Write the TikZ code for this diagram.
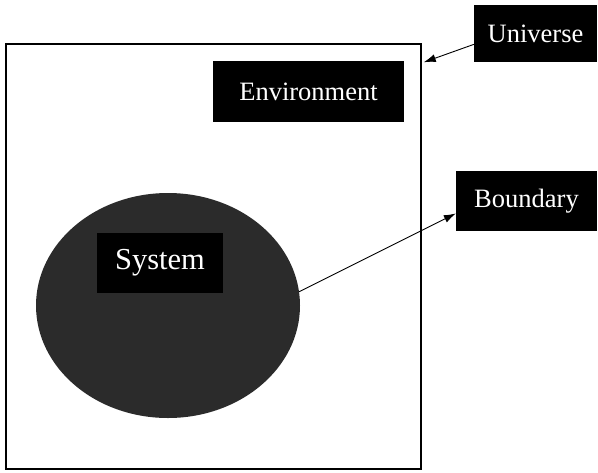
\documentclass[tikz,border=0pt]{standalone}
\usepackage{fontspec}
\setmainfont{Liberation Serif}
\usetikzlibrary{shapes.geometric, arrows.meta, positioning, calc}

\begin{document}
\begin{tikzpicture}[x=1pt, y=-1pt,
        lbox/.style={rectangle, fill=black, text=white, inner sep=0pt, align=center, font=\fontsize{26.5}{31}\selectfont},
        wire/.style={draw=black, line width=0.9pt, -{Latex[length=12pt, width=8pt]}}
    ]
        \useasboundingbox [fill=white] (0,0) rectangle (598,472);

        % Universo: marco exterior
        \node [rectangle, draw=black, line width=1.5pt, minimum width=415pt, minimum height=425pt, inner sep=0pt] (frame) at (213.5,256.5) {};

        % Sistema (elipse) y etiquetas
        \node [ellipse, fill=black!83, minimum width=264pt, minimum height=225pt, inner sep=0pt] (sys) at (168,305.5) {};
        \node [lbox, minimum width=126pt, minimum height=60pt, font=\fontsize{30.5}{35}\selectfont] (systxt) at (160,263) {System};
        \node [lbox, minimum width=191pt, minimum height=61pt] (env) at (308.5,91.5) {Environment};
        \node [lbox, minimum width=123pt, minimum height=57pt] (univ) at (535.5,33.5) {Universe};
        \node [lbox, minimum width=141pt, minimum height=60pt] (bnd) at (526.5,201) {Boundary};

        % Flechas
        \coordinate (uhit) at ($(frame.north east)+(2,19)$);
        \draw [wire] (univ.190) -- (uhit);
        \draw [wire] (sys.6) -- (bnd.190);
    \end{tikzpicture}
\end{document}
